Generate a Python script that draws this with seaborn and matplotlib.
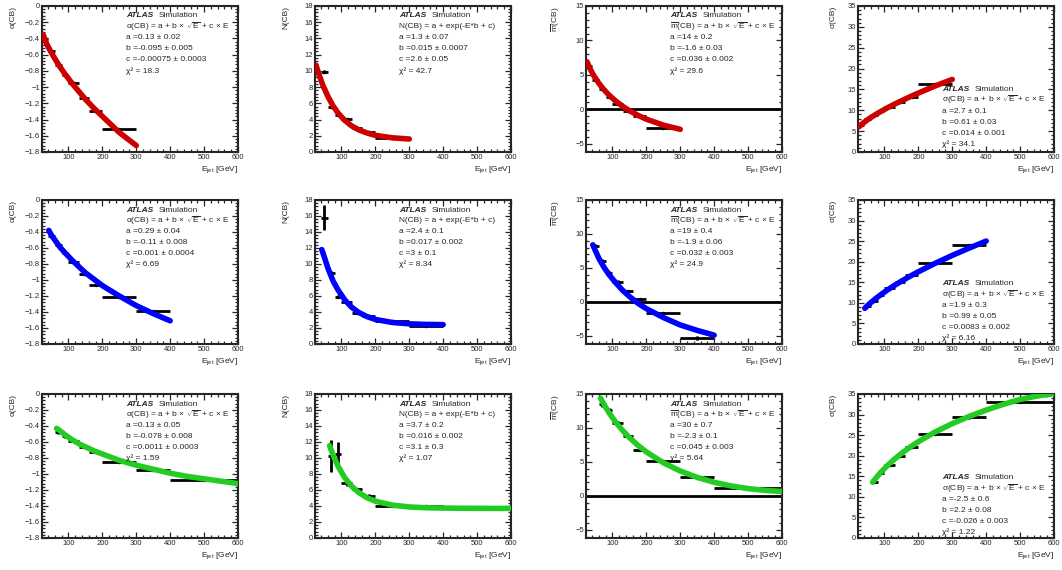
import numpy as np
import pandas as pd
import seaborn as sns
import matplotlib.pyplot as plt
from matplotlib.ticker import MultipleLocator, AutoMinorLocator, FuncFormatter

sns.set_style("ticks")
plt.rcParams['font.family'] = ['Liberation Sans', 'DejaVu Sans']
plt.rcParams['mathtext.fontset'] = 'custom'
plt.rcParams['mathtext.rm'] = 'Liberation Sans'
plt.rcParams['mathtext.it'] = 'Liberation Sans:italic'
plt.rcParams['mathtext.bf'] = 'Liberation Sans:bold'

nan = np.nan

# bin edges (E_jet, GeV) for each row
edges_r1 = [20, 40, 60, 80, 100, 130, 160, 200, 300]
edges_r2 = [40, 60, 80, 100, 130, 160, 200, 300, 400]
edges_r3 = [60, 80, 100, 130, 160, 200, 300, 400, 600]

# binned values
alpha_r1 = [-0.41, -0.56, -0.73, -0.85, -0.95, -1.13, -1.29, -1.52]
ncb_r1 = [nan, 9.9, 5.6, 4.5, 4.1, 3.0, 2.5, 1.75]
mcb_r1 = [6.3, 4.3, 2.9, 1.8, 0.8, -0.3, -1.0, -2.7]
sigma_r1 = [6.5, 7.8, 8.8, 9.8, 10.8, 11.9, 13.3, 16.2]

alpha_r2 = [-0.45, -0.56, -0.66, -0.78, -0.92, -1.06, -1.21, -1.39]
ncb_r2 = [15.8, 8.85, 5.9, 5.2, 3.85, 3.45, 2.9, 2.2]
mcb_r2 = [8.2, 6.0, 4.3, 3.0, 1.65, 0.45, -1.6, -5.35]
sigma_r2 = [9.3, 10.5, 11.9, 13.7, 15.1, 16.7, 19.6, 24.1]

alpha_r3 = [-0.48, -0.53, -0.59, -0.66, -0.72, -0.85, -0.95, -1.07]
ncb_r3 = [10.3, 10.45, 6.85, 6.1, 5.3, 4.05, 4.0, 3.7]
mcb_r3 = [13.55, 12.6, 10.75, 8.85, 6.8, 5.2, 2.75, 1.2]
sigma_r3 = [13.7, 15.8, 17.8, 20.0, 22.1, 25.3, 29.3, 33.1]

# vertical uncertainties
alpha_err_r1 = [0.02, 0.015, 0.01, 0.01, 0.01, 0.01, 0.01, 0.01]
ncb_err_r1 = [nan, 0.2, 0.15, 0.12, 0.1, 0.1, 0.1, 0.1]
mcb_err_r1 = [0.3, 0.2, 0.15, 0.12, 0.1, 0.1, 0.1, 0.15]
sigma_err_r1 = [0.3, 0.2, 0.15, 0.15, 0.15, 0.15, 0.15, 0.2]
alpha_err_r2 = [0.03, 0.02, 0.015, 0.015, 0.015, 0.015, 0.01, 0.02]
ncb_err_r2 = [1.6, 0.25, 0.2, 0.15, 0.1, 0.1, 0.1, 0.1]
mcb_err_r2 = [0.3, 0.25, 0.2, 0.15, 0.15, 0.15, 0.15, 0.3]
sigma_err_r2 = [0.3, 0.25, 0.2, 0.2, 0.2, 0.2, 0.2, 0.3]
alpha_err_r3 = [0.02, 0.02, 0.015, 0.015, 0.015, 0.015, 0.015, 0.02]
ncb_err_r3 = [2.0, 1.6, 0.3, 0.2, 0.15, 0.1, 0.1, 0.1]
mcb_err_r3 = [0.4, 0.3, 0.25, 0.2, 0.2, 0.15, 0.15, 0.2]
sigma_err_r3 = [0.4, 0.35, 0.3, 0.3, 0.3, 0.3, 0.3, 0.4]

# fitted curves
fit_e_r1 = [25, 35, 45, 60, 75, 90, 110, 130, 150, 175, 200, 250, 300]
fit_alpha_r1 = [-0.35, -0.46, -0.54, -0.65, -0.75, -0.84, -0.95, -1.05, -1.15, -1.26, -1.36, -1.56, -1.72]
fit_ncb_r1 = [10.7, 9.4, 8.25, 6.85, 5.7, 4.8, 3.89, 3.22, 2.75, 2.35, 2.05, 1.75, 1.6]
fit_mcb_r1 = [6.9, 5.79, 4.89, 3.77, 2.84, 2.06, 1.18, 0.44, -0.2, -0.87, -1.43, -2.3, -2.91]
fit_sigma_r1 = [6.05, 6.8, 7.42, 8.27, 9.03, 9.75, 10.64, 11.48, 12.27, 13.22, 14.13, 15.85, 17.4]

fit_e_r2 = [42, 50, 60, 75, 90, 110, 130, 150, 175, 200, 250, 300, 350, 400]
fit_alpha_r2 = [-0.38, -0.44, -0.5, -0.59, -0.66, -0.75, -0.83, -0.91, -0.99, -1.07, -1.2, -1.32, -1.42, -1.51]
fit_ncb_r2 = [11.8, 10.8, 9.5, 7.9, 6.75, 5.5, 4.6, 3.97, 3.43, 3.07, 2.69, 2.52, 2.45, 2.42]
fit_mcb_r2 = [8.4, 7.5, 6.4, 5.1, 4.0, 2.8, 1.7, 0.8, -0.2, -1.0, -2.3, -3.4, -4.2, -4.9]
fit_sigma_r2 = [8.67, 9.32, 10.07, 11.1, 12.04, 13.2, 14.27, 15.27, 16.45, 17.56, 19.63, 21.54, 23.32, 25.02]

fit_e_r3 = [65, 75, 90, 110, 130, 150, 175, 200, 250, 300, 350, 400, 450, 500, 550, 600]
fit_alpha_r3 = [-0.43, -0.46, -0.51, -0.57, -0.62, -0.66, -0.71, -0.75, -0.83, -0.89, -0.94, -0.99,
                -1.03, -1.06, -1.09, -1.12]
fit_ncb_r3 = [11.55, 10.39, 8.96, 7.52, 6.47, 5.71, 5.05, 4.6, 4.11, 3.88, 3.78, 3.74, 3.72, 3.71, 3.7, 3.7]
fit_mcb_r3 = [14.39, 13.46, 12.23, 10.83, 9.63, 8.58, 7.45, 6.47, 4.88, 3.66, 2.72, 2.0, 1.46, 1.07, 0.81, 0.66]
fit_sigma_r3 = [13.55, 14.6, 16.03, 17.71, 19.2, 20.54, 22.05, 23.41, 25.79, 27.8, 29.56, 31.1,
                32.47, 33.69, 34.5, 35.1]

# fit results printed on each panel
fit_text_r1 = [["a =0.13 ± 0.02", "b =-0.095 ± 0.005", "c =-0.00075 ± 0.0003", "χ² = 18.3"],
               ["a =1.3 ± 0.07", "b =0.015 ± 0.0007", "c =2.6 ± 0.05", "χ² = 42.7"],
               ["a =14 ± 0.2", "b =-1.6 ± 0.03", "c =0.036 ± 0.002", "χ² = 29.6"],
               ["a =2.7 ± 0.1", "b =0.61 ± 0.03", "c =0.014 ± 0.001", "χ² = 34.1"]]
fit_text_r2 = [["a =0.29 ± 0.04", "b =-0.11 ± 0.008", "c =0.001 ± 0.0004", "χ² = 6.69"],
               ["a =2.4 ± 0.1", "b =0.017 ± 0.002", "c =3 ± 0.1", "χ² = 8.34"],
               ["a =19 ± 0.4", "b =-1.9 ± 0.06", "c =0.032 ± 0.003", "χ² = 24.9"],
               ["a =1.9 ± 0.3", "b =0.99 ± 0.05", "c =0.0083 ± 0.002", "χ² = 6.16"]]
fit_text_r3 = [["a =0.13 ± 0.05", "b =-0.078 ± 0.008", "c =0.0011 ± 0.0003", "χ² = 1.59"],
               ["a =3.7 ± 0.2", "b =0.016 ± 0.002", "c =3.1 ± 0.3", "χ² = 1.07"],
               ["a =30 ± 0.7", "b =-2.3 ± 0.1", "c =0.045 ± 0.003", "χ² = 5.64"],
               ["a =-2.5 ± 0.6", "b =2.2 ± 0.08", "c =-0.026 ± 0.003", "χ² = 1.22"]]

ylabels = ["α(CB)", "N(CB)", r"$\overline{\mathrm{m}}$(CB)", "σ(CB)"]
formulas = [r"α(CB) = a + b × $\sqrt{\mathrm{E}}$ + c × E",
            "N(CB) = a + exp(-E*b + c)",
            r"$\overline{\mathrm{m}}$(CB) = a + b × $\sqrt{\mathrm{E}}$ + c × E",
            r"σ(CB) = a + b × $\sqrt{\mathrm{E}}$ + c × E"]
row_colors = ["#cc0000", "#0000ff", "#22cc22"]

# layout in pixels
W, H = 1062, 570
col_left = [42, 315, 586, 858]
col_width = 196
row_span = [(6, 152), (200, 344), (394, 538)]
ylims = [(-1.8, 0), (0, 18), (-6.2, 15), (0, 35)]
ymajor = [0.2, 2, 5, 5]
ylab_x = [-0.13, -0.13, -0.12, -0.11]
text_top = [[0.934, 0.934, 0.934, 0.43], [0.93, 0.93, 0.93, 0.42], [0.93, 0.93, 0.93, 0.42]]

rows = [
    (edges_r1, [alpha_r1, ncb_r1, mcb_r1, sigma_r1], [alpha_err_r1, ncb_err_r1, mcb_err_r1, sigma_err_r1],
     fit_e_r1, [fit_alpha_r1, fit_ncb_r1, fit_mcb_r1, fit_sigma_r1], fit_text_r1),
    (edges_r2, [alpha_r2, ncb_r2, mcb_r2, sigma_r2], [alpha_err_r2, ncb_err_r2, mcb_err_r2, sigma_err_r2],
     fit_e_r2, [fit_alpha_r2, fit_ncb_r2, fit_mcb_r2, fit_sigma_r2], fit_text_r2),
    (edges_r3, [alpha_r3, ncb_r3, mcb_r3, sigma_r3], [alpha_err_r3, ncb_err_r3, mcb_err_r3, sigma_err_r3],
     fit_e_r3, [fit_alpha_r3, fit_ncb_r3, fit_mcb_r3, fit_sigma_r3], fit_text_r3),
]


def root_fmt(v, pos):
    return ("%g" % v).replace("-", "\u2212")


fig = plt.figure(figsize=(W / 100, H / 100), dpi=100)
fs = 6

for r, (edges, vals, errs, fit_e, fits, texts) in enumerate(rows):
    lo = np.array(edges[:-1], dtype=float)
    hi = np.array(edges[1:], dtype=float)
    top, bot = row_span[r]
    for c in range(4):
        ax = fig.add_axes([col_left[c] / W, 1 - bot / H, col_width / W, (bot - top) / H])

        if c == 2:
            ax.axhline(0, color="black", lw=2, zorder=1)

        ax.errorbar((lo + hi) / 2, vals[c], xerr=(hi - lo) / 2, yerr=errs[c], fmt="o", ms=1.5,
                    color="black", elinewidth=2, capsize=0, zorder=2)

        df = pd.DataFrame({"E": fit_e, "val": fits[c]})
        sns.lineplot(data=df, x="E", y="val", ax=ax, color=row_colors[r], linewidth=4,
                     legend=False, zorder=3)

        ax.set_xlim(22, 600)
        ax.set_ylim(*ylims[c])
        ax.xaxis.set_major_locator(MultipleLocator(100))
        ax.xaxis.set_minor_locator(AutoMinorLocator(5))
        ax.yaxis.set_major_locator(MultipleLocator(ymajor[c]))
        ax.yaxis.set_minor_locator(AutoMinorLocator(5))
        ax.yaxis.set_major_formatter(FuncFormatter(root_fmt))
        ax.tick_params(which="both", direction="in", top=True, right=True, labelsize=5.5, pad=1.5,
                       width=0.9)
        ax.tick_params(which="major", length=4)
        ax.tick_params(which="minor", length=2)
        for s in ax.spines.values():
            s.set_linewidth(1.5)

        ax.set_xlabel(r"E$_{\mathrm{jet}}$ [GeV]", fontsize=fs, loc="right")
        ax.xaxis.set_label_coords(1.0, -0.085)
        ax.set_ylabel(ylabels[c], fontsize=fs, loc="top")
        ax.yaxis.set_label_coords(ylab_x[c], 1.0)

        tx = 0.43
        ty = text_top[r][c]
        step = 0.0755
        ax.text(tx, ty, "ATLAS", transform=ax.transAxes, fontsize=fs, fontweight="bold",
                fontstyle="italic", va="center", ha="left", zorder=4)
        ax.annotate("Simulation", xy=(tx, ty), xycoords="axes fraction", xytext=(23.5, 0),
                    textcoords="offset points", fontsize=fs, va="center", ha="left", zorder=4)
        lines = [formulas[c]] + texts[c]
        for i, line in enumerate(lines):
            ax.text(tx, ty - step * (i + 1), line, transform=ax.transAxes, fontsize=fs,
                    va="center", ha="left", zorder=4)

fig.savefig("out.png", dpi=100, facecolor="white")
